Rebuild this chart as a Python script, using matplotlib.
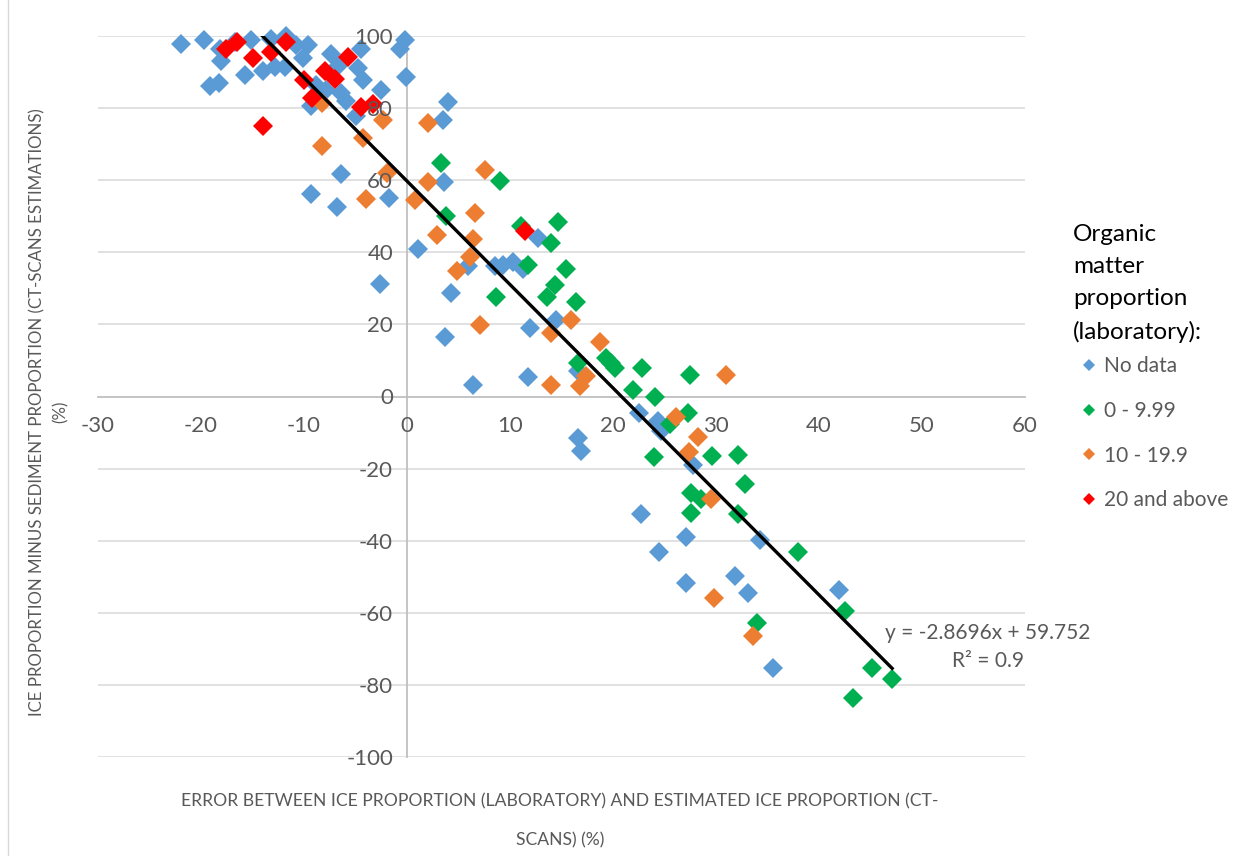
import numpy as np
import matplotlib
matplotlib.use("Agg")
from matplotlib import pyplot as plt
from matplotlib.lines import Line2D

plt.rcParams['font.family'] = ['Lato', 'DejaVu Sans']
plt.rcParams['axes.unicode_minus'] = False

# values (x = error %, y = ice minus sediment %)
nodata_x = [-21.9, -19.7, -18.2, -18.1, -19.1, -18.3, -16.7, -15.7, -15.1, -14.0,
            -12.8, -13.2, -11.7, -10.8, -11.8, -10.1, -9.6, -9.3, -8.8, -7.9,
            -7.4, -6.7, -6.4, -5.9, -5.0, -4.8, -4.5, -4.3, -2.5, -0.7,
            -0.2, -0.1, 4.0, 3.5, -9.3, -6.4, -6.8, -1.7, -2.6, 1.1,
            3.6, 4.3, 3.7, 6.4, 5.9, 8.5, 9.3, 10.3, 11.3, 11.7,
            11.9, 12.7, 14.5, 16.6, 16.6, 16.9, 22.5, 22.7, 24.4, 24.7,
            24.5, 27.1, 27.1, 27.8, 31.8, 33.1, 34.3, 35.5, 41.9]
nodata_y = [97.9, 98.8, 96.5, 93.2, 86.0, 87.1, 98.2, 89.3, 98.8, 90.2,
            91.3, 99.3, 100.0, 97.4, 91.5, 93.8, 97.4, 80.7, 86.3, 84.9,
            95.1, 91.8, 84.3, 82.1, 77.9, 91.0, 96.5, 87.7, 84.9, 96.5,
            98.8, 88.5, 81.6, 76.6, 56.3, 61.6, 52.7, 55.2, 31.3, 40.8,
            59.4, 28.8, 16.6, 3.1, 36.3, 36.1, 36.6, 37.2, 35.5, 5.3,
            19.1, 44.1, 21.1, 7.2, -11.4, -15.0, -4.7, -32.5, -6.7, -9.7,
            -43.0, -39.1, -51.6, -19.1, -49.7, -54.4, -39.7, -75.2, -53.8]

low_x = [3.3, 3.8, 9.0, 11.1, 14.7, 14.0, 11.7, 15.4, 14.4, 13.6,
         8.6, 16.4, 16.6, 19.3, 19.8, 20.2, 22.8, 21.9, 24.1, 27.5,
         24.0, 25.5, 27.3, 27.6, 27.6, 28.5, 29.6, 32.1, 32.8, 32.1,
         34.0, 38.0, 42.5, 43.3, 45.1, 47.1]
low_y = [64.9, 50.2, 59.9, 47.2, 48.5, 42.7, 36.6, 35.5, 30.8, 27.5,
         27.7, 26.1, 9.4, 10.8, 9.4, 8.0, 8.0, 1.7, 0.0, 6.1,
         -16.9, -7.5, -4.7, -26.9, -32.2, -28.3, -16.6, -16.1, -24.4, -32.5,
         -62.7, -43.0, -59.6, -83.5, -75.4, -78.5]

mid_x = [-8.3, -8.3, -4.3, -2.3, -1.9, 2.0, 2.0, -4.0, 0.8, 7.6,
         6.6, 2.9, 6.4, 6.1, 4.9, 7.1, 14.0, 14.0, 15.9, 18.7,
         17.4, 16.8, 31.0, 26.1, 28.3, 27.4, 29.5, 29.8, 33.6]
mid_y = [81.3, 69.6, 71.8, 76.6, 61.9, 76.0, 59.4, 54.9, 54.4, 62.7,
         51.0, 44.9, 43.8, 38.8, 34.7, 19.7, 17.5, 3.1, 21.1, 15.0,
         5.8, 2.8, 6.1, -5.8, -11.1, -15.3, -28.3, -55.8, -66.3]

high_x = [-17.6, -16.5, -15.0, -14.0, -13.2, -11.7, -10.0, -9.2, -8.0, -7.0,
          -5.7, -4.5, -3.3, 11.5]
high_y = [96.5, 98.2, 93.8, 74.9, 95.7, 98.2, 87.7, 82.7, 90.2, 88.2,
          94.3, 80.2, 81.0, 46.0]

labels = ["No data", "0 - 9.99", "10 - 19.9", "20 and above"]
colors = ["#5B9BD5", "#00B050", "#ED7D31", "#FF0000"]

# trendline printed on the chart
slope = -2.8696
intercept = 59.752
r2 = 0.9

grey = "#595959"

fig = plt.figure(figsize=(12.6, 8.56), dpi=100)
ax = fig.add_axes([98 / 1260, 1 - 757 / 856, (1025 - 98) / 1260, (757 - 36) / 856])

series = [(nodata_x, nodata_y), (low_x, low_y), (mid_x, mid_y), (high_x, high_y)]
handles = []
for (xs, ys), lab, col in zip(series, labels, colors):
    ax.plot(xs, ys, linestyle="none", marker="D", ms=10.3, color=col,
            markeredgewidth=0, zorder=2, clip_on=False)
    handles.append(Line2D([], [], linestyle="none", marker="D", ms=6.5,
                          color=col, markeredgewidth=0, label=lab))

all_x = np.array(nodata_x + low_x + mid_x + high_x)
tx = np.array([all_x.min(), all_x.max()])
ax.plot(tx, slope * tx + intercept, color="black", lw=2.4, zorder=3)

ax.set_xlim(-30, 60)
ax.set_ylim(-100, 100)
ax.set_xticks(np.arange(-30, 61, 10))
ax.set_yticks(np.arange(-100, 101, 20))

for yv in ax.get_yticks():
    if yv != 0:
        ax.axhline(yv, color="#d9d9d9", lw=1.1, zorder=0.5)

for side in ["top", "right"]:
    ax.spines[side].set_visible(False)
ax.spines["left"].set_position(("data", 0))
ax.spines["bottom"].set_position(("data", 0))
for side in ["left", "bottom"]:
    ax.spines[side].set_color("#bfbfbf")
    ax.spines[side].set_linewidth(1.3)
    ax.spines[side].set_zorder(0.6)
ax.xaxis.set_zorder(4)
ax.yaxis.set_zorder(4)

ax.tick_params(axis="both", length=0, labelsize=16, labelcolor=grey)
ax.tick_params(axis="x", pad=14)
ax.tick_params(axis="y", pad=10)

ax.text(56.4, -69.5, "y = -2.8696x + 59.752\nR² = %g" % r2, ha="center", va="center",
        ma="center", fontsize=15, color=grey, linespacing=1.45)

fig.text(49 / 1260, 1 - 412 / 856,
         "ICE PROPORTION MINUS SEDIMENT PROPORTION (CT-SCANS ESTIMATIONS)\n(%)",
         rotation=90, ha="center", va="center", ma="center", fontsize=12.2,
         color=grey, linespacing=1.5)
fig.text(560 / 1260, 1 - 821 / 856,
         "ERROR BETWEEN ICE PROPORTION (LABORATORY) AND ESTIMATED ICE PROPORTION (CT-\nSCANS) (%)",
         ha="center", va="center", ma="center", fontsize=12.6, color=grey, linespacing=2.7)

# legend title as its own text block, entries below it
fig.text(1073 / 1260, 1 - 224 / 856, "Organic\nmatter\nproportion\n(laboratory):",
         ha="left", va="top", fontsize=17.5, color="black", linespacing=1.66)
leg = fig.legend(handles=handles, loc="upper left",
                 bbox_to_anchor=(1066 / 1260, 1 - 346 / 856),
                 frameon=False, fontsize=15, labelspacing=1.18, handlelength=1.2,
                 handletextpad=0.1, borderpad=0)
for t in leg.get_texts():
    t.set_color(grey)

fig.add_artist(Line2D([8 / 1260, 8 / 1260], [0, 1], color="#d9d9d9", lw=1,
                      transform=fig.transFigure))

fig.savefig("out.png", dpi=100)
